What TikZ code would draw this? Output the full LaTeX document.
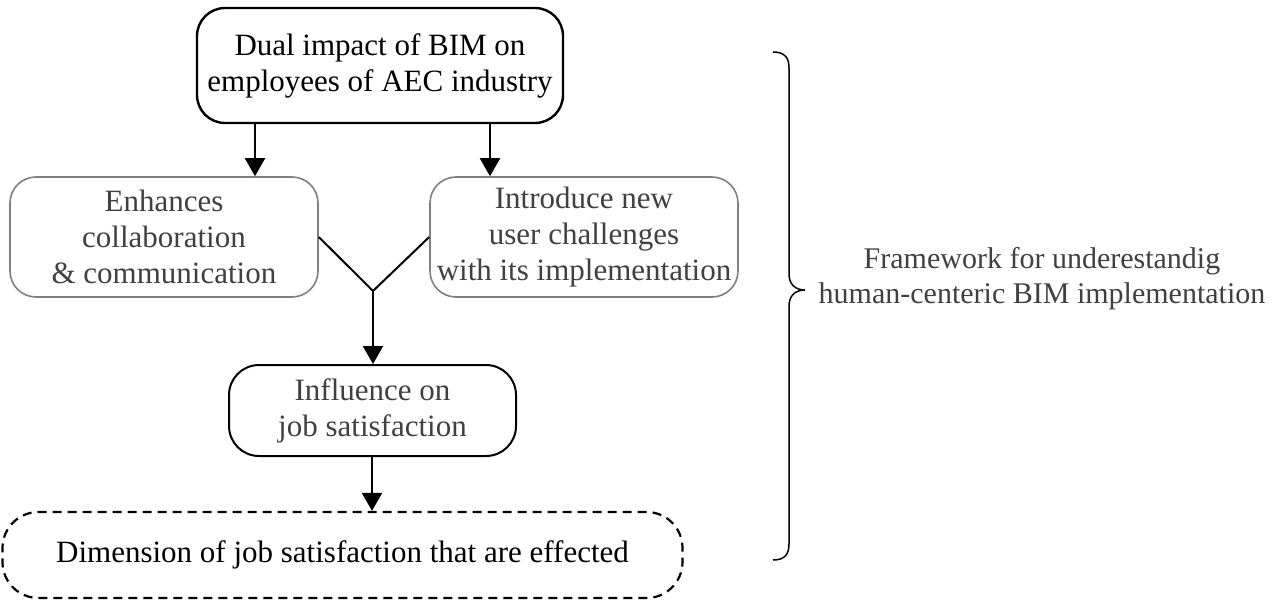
\documentclass[tikz,border=0pt]{standalone}
\usepackage{fontspec}
\setmainfont{Liberation Serif}
\usetikzlibrary{arrows.meta}
\definecolor{boxgray}{HTML}{7F7F7F}
\definecolor{textgray}{HTML}{404040}
\begin{document}
\begin{tikzpicture}[x=1pt,y=-1pt,
  every node/.style={font=\fontsize{31}{36}\selectfont, align=center, inner sep=0pt},
  mainbox/.style={draw=black, line width=2.4pt, rounded corners=28pt},
  sidebox/.style={draw=boxgray, line width=1.6pt, rounded corners=26pt, text=textgray},
  flowarrow/.style={line width=2pt, -{Triangle[width=20pt,length=18pt]}},
  joinline/.style={line width=2pt}
]
\useasboundingbox (0,0) rectangle (1276,602);

% main flow
\node[mainbox, minimum width=366pt, minimum height=115pt] (dual) at (380,65.5)
  {Dual impact of BIM on\\employees of AEC industry};
\node[sidebox, minimum width=308pt, minimum height=120pt] (enh) at (164,237)
  {Enhances\\collaboration\\\& communication};
\node[sidebox, minimum width=308pt, minimum height=120pt] (intro) at (584,237)
  {Introduce new\\user challenges\\with its implementation};
\node[mainbox, line width=2pt, rounded corners=30pt, text=textgray,
  minimum width=287pt, minimum height=91pt] (infl) at (372.5,410.5)
  {Influence on\\job satisfaction};
\node[draw=black, line width=2.2pt, dash pattern=on 9pt off 6pt, rounded corners=36pt,
  minimum width=680pt, minimum height=86pt] (dim) at (342.5,555)
  {Dimension of job satisfaction that are effected};

% connectors
\draw[flowarrow] (dual.south -| 255,0) -- (enh.north -| 255,0);
\draw[flowarrow] (dual.south -| 490,0) -- (intro.north -| 490,0);
\coordinate (join) at (373,291);
\draw[joinline] (enh.east) -- (join) -- (intro.west);
\draw[flowarrow] (join) -- (infl.north -| join);
\draw[flowarrow] (infl.south -| 372,0) -- (dim.north -| 372,0);

% brace and framework label
\coordinate (btop) at (773,52);
\coordinate (btip) at (805,290);
\coordinate (bbot) at (773,560);
\draw[line width=1.5pt] (btop) .. controls (785,52) and (789,58) .. (789,68)
  -- (789,274) .. controls (789,284) and (795,290) .. (btip)
  .. controls (795,290) and (789,296) .. (789,306)
  -- (789,544) .. controls (789,554) and (785,560) .. (bbot);
\node[text=textgray, font=\fontsize{30}{35}\selectfont] (frame) at (1042,279)
  {Framework for underestandig\\human-centeric BIM implementation};
\end{tikzpicture}
\end{document}
